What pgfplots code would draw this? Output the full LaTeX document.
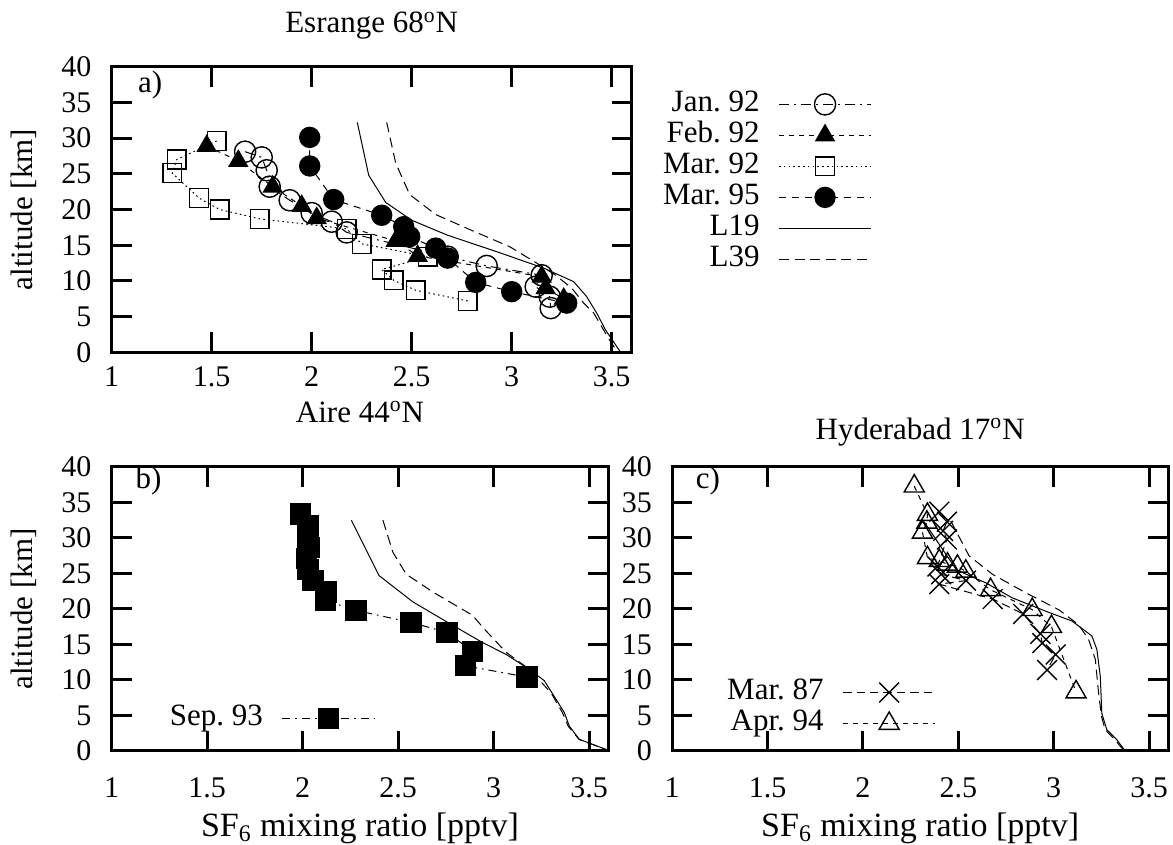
\documentclass[border=0pt]{standalone}
\usepackage{fontspec}
\setmainfont{Liberation Serif}
\usepackage{pgfplots}
\pgfplotsset{compat=1.18}
\frenchspacing
\newcommand\fs{\fontsize{15.5}{18}\selectfont}
\newcommand\tfs{\fontsize{15}{18}\selectfont}

\pgfplotsset{
  panel/.style={
    scale only axis, anchor=south west,
    xmin=1, xmax=3.6, ymin=0, ymax=40,
    xtick={1,1.5,2,2.5,3,3.5},
    ytick={0,5,...,40},
    tick align=inside, major tick length=10pt,
    axis line style={line width=1.5pt},
    every tick/.style={black, line width=1.5pt},
    font=\fs,
    /pgf/number format/assume math mode=true,
    ticklabel style={font=\tfs},
    yticklabel style={inner sep=0pt, xshift=-10pt},
    xticklabel style={anchor=base, inner sep=0pt, yshift=-23.5pt},
    every axis title/.style={font=\fs, anchor=base},
    every axis plot/.append style={line width=0.5pt, black,
        mark options={solid, line width=0.7pt}},
    legend image code/.code={\draw[mark repeat=2, mark phase=2]
        plot coordinates {(0pt,0pt) (23pt,0pt) (46pt,0pt)};},
    legend plot pos=right, legend cell align=right,
    legend style={draw=none, fill=none, inner sep=0pt, font=\fs,
        column sep=8.5pt, row sep=0.5pt,
        nodes={inner sep=1pt, text height=10pt, text depth=3pt}},
  },
  xlab/.style={xlabel={SF\textsubscript{6} mixing ratio [pptv]},
    xlabel style={font=\fontsize{17}{20}\selectfont,
      at={(axis description cs:0.5,-0.30)}, anchor=base}},
}

\begin{document}
\begin{tikzpicture}
\path[use as bounding box] (0pt,0pt) rectangle (586.5pt,422.5pt);

% a) Esrange
\begin{axis}[panel, at={(55.85pt,246.3pt)}, width=260pt, height=142.85pt,
  xticklabel style={yshift=6.5pt},
  ylabel={altitude [km]},
  ylabel style={at={(axis description cs:-0.1687,0.5)}, anchor=center},
  title={Esrange 68\textsuperscript{o}N},
  title style={at={(axis description cs:0.5,1.118)}},
  legend style={at={(rel axis cs:1.462,0.922)}, anchor=north east}]
\addplot[dash pattern=on 5pt off 2.5pt on 1pt off 2.5pt, mark=o, mark size=5.3pt]
  coordinates {(1.667,28.1) (1.75,27.3) (1.775,25.5) (1.79,23.2) (1.89,21.3)
   (2.0,19.5) (2.10,18.3) (2.175,16.8) (2.68,13.4) (2.875,12.1) (3.15,10.8)
   (3.12,9.2) (3.19,7.8) (3.195,6.2)};
\addlegendentry{Jan.\ 92}
\addplot[dash pattern=on 2.5pt off 2.5pt, mark=triangle*, mark size=5.2pt]
  coordinates {(1.475,28.9) (1.633,26.8) (1.805,23.2) (1.95,20.5) (2.025,18.8)
   (2.42,15.6) (2.53,13.5) (3.15,10.6) (3.17,9.0) (3.26,7.5)};
\addlegendentry{Feb.\ 92}
\addplot[dash pattern=on 0.8pt off 1.6pt, mark=square, mark size=4.7pt]
  coordinates {(1.525,29.6) (1.325,27.0) (1.303,25.1) (1.437,21.6) (1.54,20.0)
   (1.74,18.7) (2.175,17.3) (2.25,15.2) (2.58,13.4) (2.35,11.6) (2.41,10.1)
   (2.52,8.7) (2.78,7.2)};
\addlegendentry{Mar.\ 92}
\addplot[dash pattern=on 3.5pt off 3pt, mark=*, mark size=5pt]
  coordinates {(1.99,30.1) (1.99,26.1) (2.11,21.4) (2.35,19.2) (2.46,17.6)
   (2.49,16.2) (2.62,14.6) (2.68,13.2) (2.82,9.8) (3.0,8.5) (3.275,6.9)};
\addlegendentry{Mar.\ 95}
\addplot[solid] coordinates {(2.228,32.2) (2.285,24.8) (2.37,21.0) (2.50,18.5)
   (2.68,16.4) (2.925,14.1) (3.16,11.8) (3.31,9.9) (3.375,7.8) (3.425,5.5)
   (3.47,3.1) (3.545,0)};
\addlegendentry{L19}
\addplot[dash pattern=on 5pt off 2.8pt] coordinates {(2.375,32.2) (2.42,26.5)
   (2.49,22.1) (2.62,19.3) (2.79,17.2) (2.99,14.8) (3.125,12.5) (3.22,10.8)
   (3.30,9.0) (3.36,6.9) (3.41,5.5) (3.49,1.7) (3.53,0)};
\addlegendentry{L39}
\node at (rel axis cs:0.074,0.936) {a)};
\end{axis}

% b) Aire
\begin{axis}[panel, xlab, at={(55.85pt,47pt)}, width=248.3pt, height=142pt,
  ylabel={altitude [km]},
  ylabel style={at={(axis description cs:-0.1766,0.5)}, anchor=center},
  title={Aire 44\textsuperscript{o}N},
  title style={at={(axis description cs:0.5,1.158)}},
  legend style={at={(rel axis cs:0.531,0.168)}, anchor=north east}]
\addplot[dash pattern=on 4pt off 2.5pt on 0.8pt off 2.5pt, mark=square*, mark size=5pt]
  coordinates {(1.988,33.4) (2.028,31.8) (2.028,30.1) (2.037,28.7) (2.02,27.1)
   (2.028,25.6) (2.054,24.0) (2.124,22.4) (2.12,21.2) (2.28,19.8) (2.568,18.1)
   (2.756,16.7) (2.89,14.0) (2.852,12.0) (3.175,10.4)};
\addlegendentry{Sep.\ 93}
\addplot[solid, forget plot] coordinates {(2.255,32.5) (2.40,24.7) (2.577,21.0)
   (2.76,18.1) (2.94,15.3) (3.065,13.6) (3.187,11.5) (3.265,9.9) (3.326,7.3)
   (3.37,5.4) (3.396,3.5) (3.448,1.65) (3.6,0.1)};
\addplot[dash pattern=on 5pt off 2.8pt, forget plot] coordinates {(2.42,32.5)
   (2.472,28.0) (2.542,24.9) (2.681,22.4) (2.89,19.1) (2.95,17.2) (3.065,13.9)
   (3.187,11.5) (3.30,8.2) (3.36,5.4) (3.39,3.5) (3.448,1.6) (3.6,0.1)};
\node at (rel axis cs:0.074,0.95) {b)};
\end{axis}

% c) Hyderabad
\begin{axis}[panel, xlab, at={(336.1pt,47pt)}, width=248pt, height=142pt,
  title={Hyderabad 17\textsuperscript{o}N},
  title style={at={(axis description cs:0.5,1.097)}},
  legend style={at={(rel axis cs:0.532,0.260)}, anchor=north east}]
\addplot[dash pattern=on 4.2pt off 2.5pt, mark=x, mark size=7pt]
  coordinates {(2.40,33.7) (2.44,32.3) (2.42,31.0) (2.44,29.8) (2.39,26.0)
   (2.41,24.9) (2.54,24.0) (2.40,23.5) (2.68,21.4) (2.84,19.3) (2.93,16.5)
   (2.94,15.2) (3.01,13.6) (2.965,11.4)};
\addlegendentry{Mar.\ 87}
\addplot[dash pattern=on 2.5pt off 2.5pt, mark=triangle, mark size=5.8pt]
  coordinates {(2.269,37.3) (2.338,33.3) (2.335,32.2) (2.312,30.8) (2.338,27.2)
   (2.40,26.8) (2.443,26.3) (2.495,26.0) (2.539,25.3) (2.669,22.7) (2.887,19.9)
   (2.988,17.5) (3.117,8.3)};
\addlegendentry{Apr.\ 94}
\addplot[solid, forget plot] coordinates {(2.32,32.3) (2.49,25.5) (2.643,23.7)
   (2.78,21.6) (2.957,19.7) (3.096,18.3) (3.2,16.2) (3.226,14.3) (3.244,10.5)
   (3.252,5.3) (3.278,3.0) (3.33,1.6) (3.375,0)};
\addplot[dash pattern=on 5pt off 2.8pt, forget plot] coordinates {(2.46,32.4)
   (2.556,27.5) (2.678,24.9) (2.852,22.3) (3.026,19.9) (3.13,17.8) (3.183,15.7)
   (3.218,12.9) (3.235,8.2) (3.25,4.9) (3.27,3.0) (3.32,1.6) (3.37,0)};
\node at (rel axis cs:0.072,0.949) {c)};
\end{axis}
\end{tikzpicture}
\end{document}
